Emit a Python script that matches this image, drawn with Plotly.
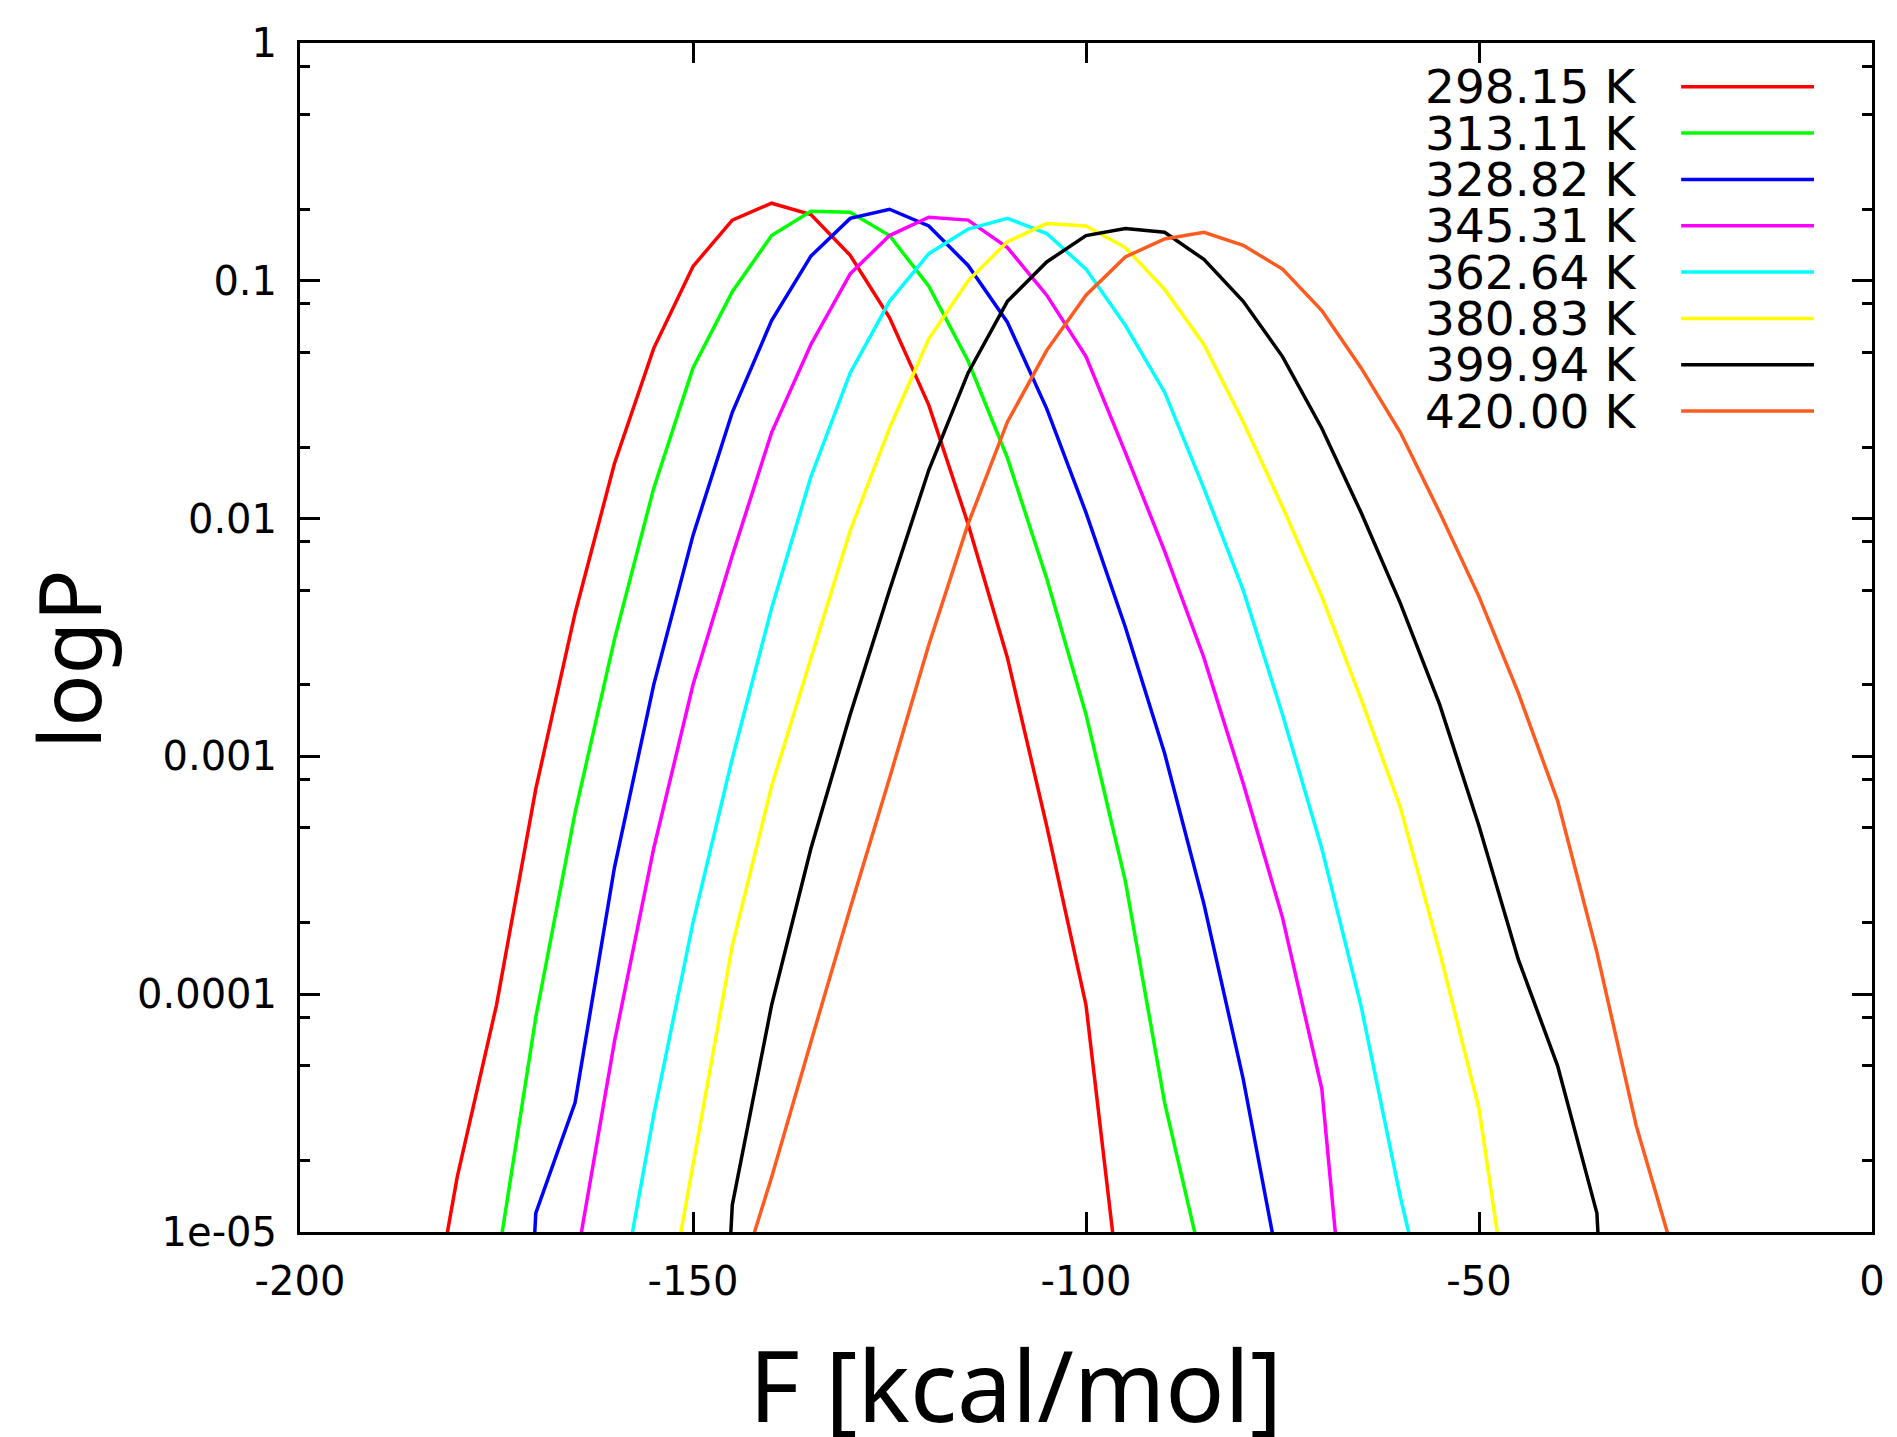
import plotly.graph_objects as go

# temperature labels and colours (gnuplot-like palette)
temps = ["298.15 K", "313.11 K", "328.82 K", "345.31 K",
         "362.64 K", "380.83 K", "399.94 K", "420.00 K"]
colors = ["#ff0000", "#00ff00", "#0000ff", "#ff00ff",
          "#00ffff", "#ffff00", "#000000", "#ff5a1f"]

# F [kcal/mol] grids, one per temperature (step 5)
f_298 = list(range(-185, -94, 5))
f_313 = list(range(-175, -84, 5))
f_328 = list(range(-175, -74, 5))
f_345 = list(range(-165, -64, 5))
f_362 = list(range(-160, -54, 5))
f_380 = list(range(-155, -44, 5))
f_399 = list(range(-150, -29, 5))
f_420 = list(range(-145, -24, 5))

# probabilities
p_298 = [2e-6, 1.7e-5, 9e-5, 7.3e-4, 4.0e-3, 0.017, 0.052, 0.115, 0.18, 0.212,
         0.19, 0.128, 0.07, 0.03, 0.0095, 0.0026, 5.1e-4, 9e-5, 3.5e-6]
p_313 = [7e-6, 8e-5, 5.8e-4, 3.1e-3, 0.0134, 0.043, 0.09, 0.155, 0.196, 0.194,
         0.155, 0.095, 0.046, 0.018, 5.6e-3, 1.5e-3, 3e-4, 3.5e-5, 6.8e-6]
p_328 = [1e-8, 1.2e-5, 3.5e-5, 3.4e-4, 2e-3, 8.5e-3, 0.028, 0.068, 0.127, 0.183,
         0.2, 0.17, 0.116, 0.067, 0.029, 0.0106, 3.5e-3, 1.03e-3, 2.4e-4, 4.4e-5,
         5.9e-6]
p_345 = [7e-6, 6.3e-5, 4.1e-4, 2e-3, 7e-3, 0.023, 0.054, 0.107, 0.155, 0.185,
         0.18, 0.138, 0.087, 0.048, 0.019, 7.3e-3, 2.6e-3, 7.7e-4, 2.1e-4, 4e-5,
         7e-7]
p_362 = [3.8e-6, 3.1e-5, 2e-4, 9.8e-4, 4.2e-3, 0.015, 0.041, 0.082, 0.13, 0.165,
         0.183, 0.158, 0.112, 0.065, 0.034, 0.0134, 5e-3, 1.5e-3, 4.1e-4, 8.9e-5,
         1.4e-5, 2.8e-6]
p_380 = [2.3e-6, 1.9e-5, 1.6e-4, 7.5e-4, 2.6e-3, 8.9e-3, 0.024, 0.057, 0.10, 0.146,
         0.174, 0.17, 0.138, 0.092, 0.054, 0.0255, 0.0112, 4.7e-3, 1.74e-3, 6.1e-4,
         1.5e-4, 3.3e-5, 2.5e-6]
p_399 = [1e-8, 1.3e-5, 9e-5, 4.1e-4, 1.5e-3, 5e-3, 0.016, 0.041, 0.082, 0.12,
         0.155, 0.166, 0.16, 0.123, 0.082, 0.048, 0.024, 0.0106, 4.4e-3, 1.65e-3,
         5.1e-4, 1.4e-4, 5e-5, 1.2e-5, 1e-8]
p_420 = [5e-6, 1.7e-5, 6.3e-5, 2.3e-4, 8.1e-4, 2.95e-3, 9.5e-3, 0.0255, 0.051, 0.087,
         0.126, 0.15, 0.16, 0.141, 0.112, 0.075, 0.043, 0.023, 0.0106, 4.7e-3,
         1.85e-3, 6.5e-4, 1.5e-4, 2.8e-5, 7.6e-6]

x_ticks = [-200, -150, -100, -50, 0]
x_labels = ["-200", "-150", "-100", "-50", "0"]
y_ticks = [1, 0.1, 0.01, 0.001, 0.0001, 0.00001]
y_labels = ["1", "0.1", "0.01", "0.001", "0.0001", "1e-05"]

series = [(f_298, p_298), (f_313, p_313), (f_328, p_328), (f_345, p_345),
          (f_362, p_362), (f_380, p_380), (f_399, p_399), (f_420, p_420)]

fig = go.Figure()
for (fx, py), name, col in zip(series, temps, colors):
    fig.add_trace(go.Scatter(x=fx, y=py, name=name, mode="lines",
                             line=dict(color=col, width=3.5), showlegend=False))

tickfont = dict(family="DejaVu Sans", size=40, color="black")
minor_vals = [m * 10.0 ** k for k in range(-5, 0) for m in (2, 5, 8)]

# page body has an 8px margin, so the figure is 8px smaller than the window
fig.update_layout(
    width=1889, height=1429,
    margin=dict(l=292, r=24, t=28, b=205),
    paper_bgcolor="white", plot_bgcolor="white",
    xaxis=dict(range=[-200, 0], tickmode="array", tickvals=x_ticks, ticktext=x_labels,
               ticks="inside", ticklen=20, tickwidth=2.5, tickcolor="black",
               showline=True, linewidth=3, linecolor="black", mirror="ticks",
               showgrid=False, zeroline=False, tickfont=tickfont,
               ticklabelstandoff=12),
    yaxis=dict(type="log", range=[-5, 0], tickmode="array", tickvals=y_ticks,
               ticktext=y_labels, ticks="inside", ticklen=20, tickwidth=2.5,
               tickcolor="black", showline=True, linewidth=3, linecolor="black",
               mirror="ticks", showgrid=False, zeroline=False, tickfont=tickfont,
               ticklabelstandoff=12,
               minor=dict(tickmode="array", tickvals=minor_vals, ticks="inside",
                          ticklen=10, tickwidth=2.5, tickcolor="black",
                          showgrid=False)),
)

# gnuplot-style key: text then sample line
row0 = 80.0
step = 46.6
for i, (name, col) in enumerate(zip(temps, colors)):
    yp = (1232 - (row0 + step * i)) / 1196
    fig.add_annotation(x=0.851, y=yp, xref="paper", yref="paper", text=name,
                       showarrow=False, xanchor="right", yanchor="middle",
                       font=dict(family="DejaVu Sans", size=47, color="black"))
    fig.add_shape(type="line", xref="paper", yref="paper", x0=0.8786, x1=0.9631,
                  y0=yp, y1=yp, line=dict(color=col, width=3.5))

fig.add_annotation(x=0.455, y=-0.128, xref="paper", yref="paper",
                   text="F [kcal/mol]", showarrow=False,
                   xanchor="center", yanchor="middle",
                   font=dict(family="Noto Sans", size=98, color="black"))
fig.add_annotation(x=-0.148, y=0.4816, xref="paper", yref="paper",
                   text="logP", showarrow=False, textangle=-90,
                   xanchor="center", yanchor="middle",
                   font=dict(family="Noto Sans", size=86, color="black"))

fig.write_html("out.html")
